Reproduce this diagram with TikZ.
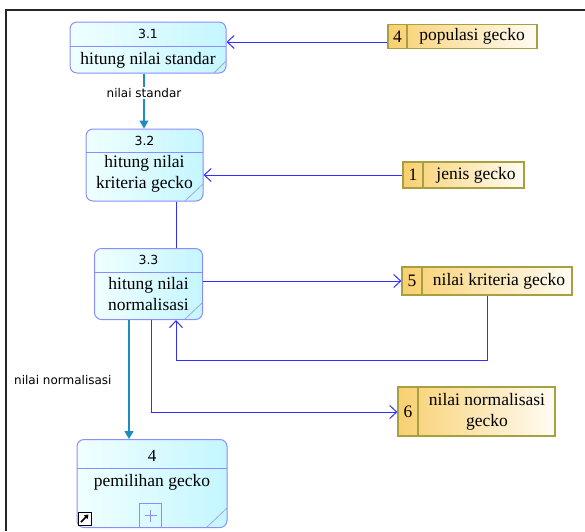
\documentclass[tikz,border=0pt]{standalone}
\usepackage{fontspec}
\setmainfont{Liberation Serif}
\newfontfamily\labelfont{DejaVu Sans}
\usetikzlibrary{arrows.meta}

\definecolor{procline}{HTML}{8C8CFF}
\definecolor{procA}{HTML}{F0FFFF}
\definecolor{procB}{HTML}{C4F6FF}
\definecolor{foldline}{HTML}{A0A8D8}
\definecolor{storeline}{HTML}{A8A040}
\definecolor{storeA}{HTML}{F8D070}
\definecolor{storeB}{HTML}{FFFCF4}
\definecolor{flowblue}{HTML}{3030FF}
\definecolor{flowteal}{HTML}{1E8CC0}

\begin{document}
\begin{tikzpicture}[x=1pt,y=-1pt,
  proc/.style={draw=procline, line width=1pt, rounded corners=7pt,
    left color=procA, right color=procB, inner sep=0pt},
  sepline/.style={draw=procline, line width=1pt},
  fold/.style={draw=foldline, line width=0.8pt},
  store/.style={draw=storeline, line width=1.2pt, left color=storeA,
    right color=storeB, inner sep=0pt},
  storesep/.style={draw=storeline, line width=1.2pt},
  ptext/.style={font=\fontsize{17.5}{21}\selectfont, align=center, inner sep=0pt},
  pnum/.style={font=\labelfont\fontsize{12.5}{14}\selectfont, inner sep=0pt},
  flowlabel/.style={font=\labelfont\fontsize{12}{14}\selectfont, inner sep=0pt},
  storeflow/.style={draw=flowblue, line width=1pt},
  storearrow/.style={storeflow, -{Straight Barb[length=7pt,width=13pt,line width=1pt]}},
  dataarrow/.style={draw=flowteal, line width=1.2pt,
    -{Triangle[length=8pt,width=9pt]}},
]
\useasboundingbox (0,0) rectangle (585,531);

% outer frame
\draw[line width=2pt, black!85] (6,531) -- (6,10) -- (585,10);

% ---------- processes ----------
\node[proc, minimum width=156pt, minimum height=51pt] (p1) at (148,47.5) {};
\draw[sepline] (70,46) -- (226,46);
\draw[fold] (214,73) -- (226,61);
\node[pnum] (p1n) at (148,34) {3.1};
\node[ptext] (p1t) at (148,60) {hitung nilai standar};

\node[proc, minimum width=117pt, minimum height=72pt] (p2) at (144.5,165) {};
\draw[sepline] (86,152) -- (203,152);
\draw[fold] (185,201) -- (203,184);
\node[pnum] (p2n) at (144.5,141) {3.2};
\node[ptext] (p2t) at (144.5,174) {hitung nilai\\kriteria gecko};

\node[proc, minimum width=108pt, minimum height=71pt] (p3) at (148.5,284) {};
\draw[sepline] (95,272) -- (202,272);
\draw[fold] (185,319) -- (202,303);
\node[pnum] (p3n) at (148.5,260) {3.3};
\node[ptext] (p3t) at (148.5,294) {hitung nilai\\normalisasi};

\node[proc, minimum width=150pt, minimum height=88pt] (p4) at (152,483.5) {};
\draw[sepline] (77,468) -- (227,468);
\draw[fold] (207,527) -- (227,508);
\node[pnum, font=\fontsize{17}{21}\selectfont] (p4n) at (152,456) {4};
\node[ptext] (p4t) at (152,482) {pemilihan gecko};
\node[draw=procline, line width=1pt, minimum width=22pt, minimum height=24pt,
  inner sep=0pt] (p4plus) at (150.5,515.5) {};
\draw[draw=procline, line width=1pt] (p4plus.center) +(-6,0) -- +(6,0)
  (p4plus.center) +(0,-6) -- +(0,6);
% sub-diagram link marker
\node[draw=black, fill=white, line width=1pt, minimum size=13pt, inner sep=0pt]
  (p4link) at (84.5,518.5) {};
\draw[line width=1.6pt, -{Triangle[length=4pt,width=5pt]}]
  ([shift={(-3.5,3.5)}]p4link.center) -- ([shift={(4,-4)}]p4link.center);

% ---------- data stores ----------
\node[store, minimum width=149pt, minimum height=24pt] (s4) at (462.5,36.5) {};
\draw[storesep] (407,24.5) -- (407,48.5);
\node[ptext] (s4n) at (397.5,36.5) {4};
\node[ptext] (s4t) at (472,36.5) {populasi gecko};

\node[store, minimum width=121pt, minimum height=26pt] (s1) at (463.5,175) {};
\draw[storesep] (423,162) -- (423,188);
\node[ptext] (s1n) at (413,175) {1};
\node[ptext] (s1t) at (476,175) {jenis gecko};

\node[store, minimum width=170pt, minimum height=28pt] (s5) at (487,281) {};
\draw[storesep] (422,267) -- (422,295);
\node[ptext] (s5n) at (412,281) {5};
\node[ptext] (s5t) at (499,281) {nilai kriteria gecko};

\node[store, minimum width=157pt, minimum height=49pt] (s6) at (476.5,411.5) {};
\draw[storesep] (418,387) -- (418,436);
\node[ptext] (s6n) at (408,412) {6};
\node[ptext] (s6t) at (487,412) {nilai normalisasi\\gecko};

% ---------- flows ----------
\coordinate (k1) at (487,360);
\coordinate (k2) at (176,360);
\coordinate (k3) at (151,412);
\coordinate (k4) at (129,400);
\coordinate (k5) at (176,230);
\coordinate (k6) at (144,100);

\draw[dataarrow] (k6 |- p1.south) -- (k6 |- p2.north);
\node[flowlabel, fill=white, inner sep=1pt] (l1) at (144,93) {nilai standar};

\draw[storearrow] ([yshift=-5.5pt]s4.west) -- ([yshift=-5.5pt]s4.west -| p1.east);
\draw[storearrow] (s1.west) -- (s1.west -| p2.east);
\draw[storeflow] (k5 |- p2.south) -- (k5 |- p3.north);
\draw[storearrow] (s5.west -| p3.east) -- (s5.west);
\draw[storearrow] (k1 |- s5.south) -- (k1) -- (k2) -- (k2 |- p3.south);
\draw[storearrow] (k3 |- p3.south) -- (k3) -- (k3 -| s6.west);

\draw[dataarrow] (k4 |- p3.south) -- (k4 |- p4.north);
\node[flowlabel, anchor=west] (l2) at (14,380) {nilai normalisasi};
\end{tikzpicture}
\end{document}
